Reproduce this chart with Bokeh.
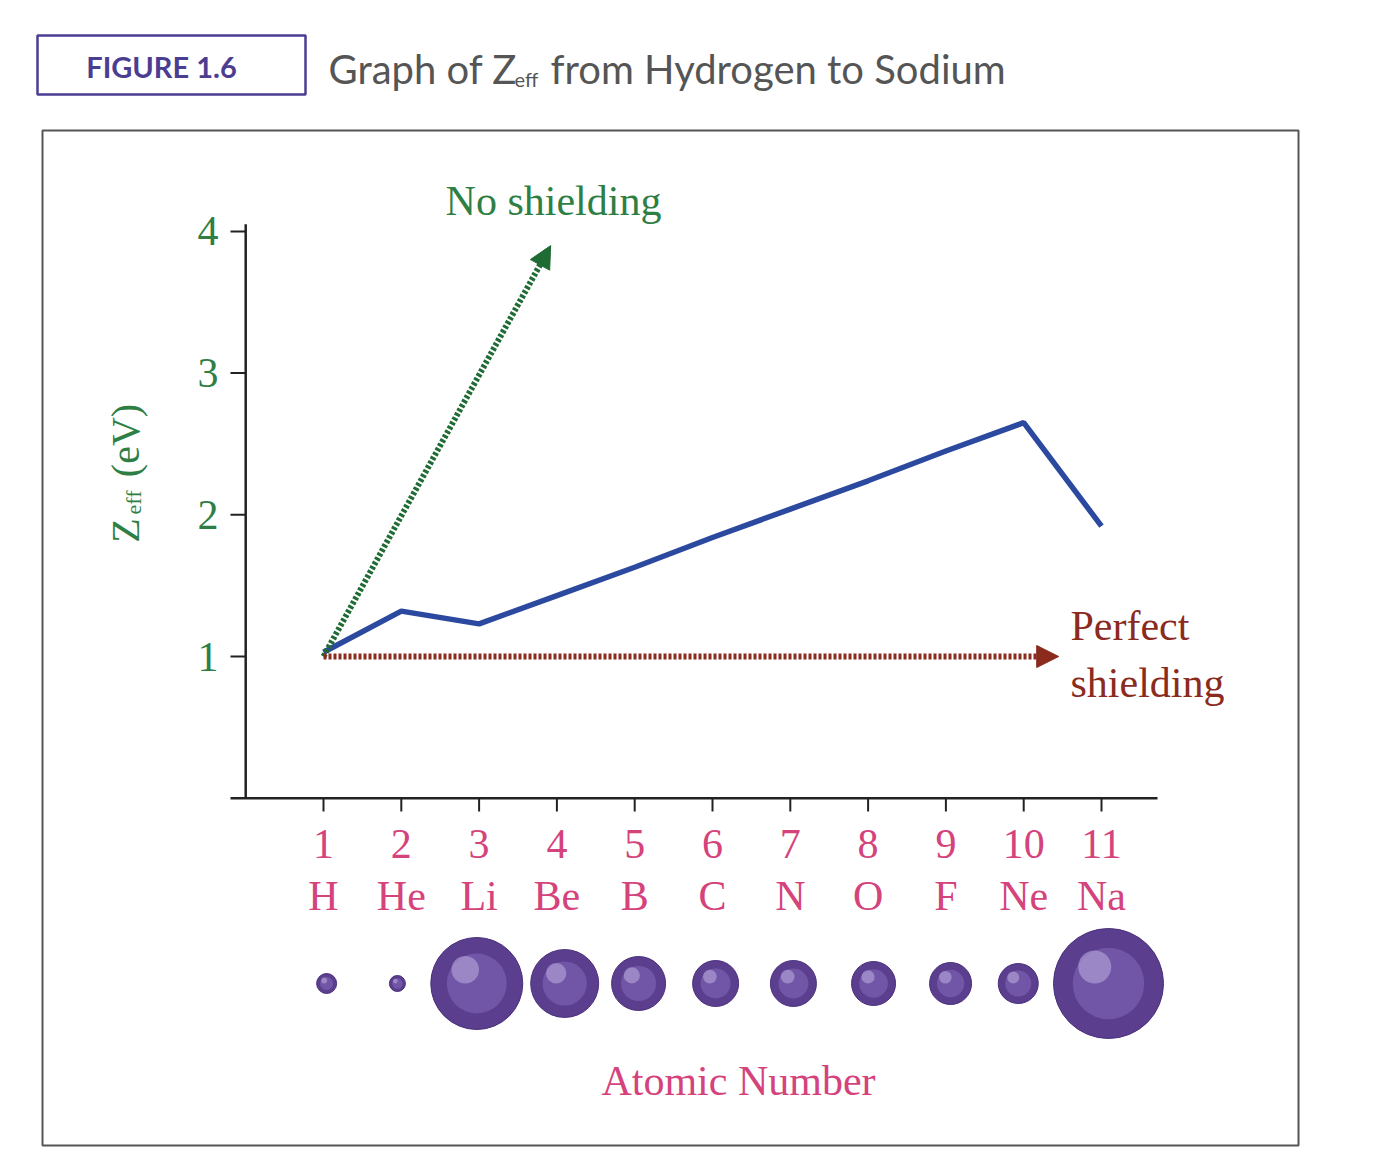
from bokeh.plotting import figure
from bokeh.embed import file_html
from bokeh.resources import INLINE
from bokeh.core.properties import value
from bokeh.models import Range1d, Arrow, NormalHead
import math

atomic_numbers = [1, 2, 3, 4, 5, 6, 7, 8, 9, 10, 11]
symbols = ["H", "He", "Li", "Be", "B", "C", "N", "O", "F", "Ne", "Na"]
zeff = [1.03, 1.32, 1.23, 1.43, 1.63, 1.84, 2.04, 2.24, 2.45, 2.65, 1.92]
y_ticks = [1, 2, 3, 4]
ball_x = [1.04, 1.95, 2.97, 4.10, 5.05, 6.04, 7.04, 8.07, 9.06, 9.93, 11.09]
ball_radius_px = [10, 8, 46, 34, 27, 23, 23, 22, 21, 20, 55]
no_shield_end = (3.92, 3.90)
perfect_end = (10.45, 1.0)

W, H = 1359, 1159
PX_X, PX_Y = 77.8, 141.7
def X(px): return 1 + (px - 323) / PX_X
def Y(py): return 1 - (py - 656) / PX_Y

p = figure(width=W, height=H, output_backend="svg", toolbar_location=None,
           x_range=Range1d(X(0), X(W)), y_range=Range1d(Y(H), Y(0)),
           min_border=0, border_fill_color="white")
p.axis.visible = False
p.grid.visible = False
p.outline_line_color = None

SERIF = value("Liberation Serif")
SANS = value("Lato")
GREEN = "#2f7f45"
PINK = "#d4437c"
BLUE = "#2c49a0"
BROWN = "#8a2b1e"
PURPLE = "#4b3d92"

# outer boxes
p.quad(left=X(42), right=X(1298), top=Y(130), bottom=Y(1145), fill_color=None, line_color="#555555", line_width=2)
p.quad(left=X(37), right=X(305), top=Y(35), bottom=Y(94), fill_color=None, line_color=PURPLE, line_width=2.5)
p.text(x=[X(161)], y=[Y(66)], text=["FIGURE 1.6"], text_font=SANS, text_font_style="bold",
       text_font_size="29px", text_color=PURPLE, text_align="center", text_baseline="middle")
p.text(x=[X(328)], y=[Y(68)], text=["Graph of Z"], text_font=SANS, text_font_size="40px",
       text_color="#555555", text_align="left", text_baseline="middle")
p.text(x=[X(514)], y=[Y(78)], text=["eff"], text_font=SANS, text_font_size="20px",
       text_color="#555555", text_align="left", text_baseline="middle")
p.text(x=[X(550)], y=[Y(68)], text=["from Hydrogen to Sodium"], text_font=SANS, text_font_size="40px",
       text_color="#555555", text_align="left", text_baseline="middle")

# axes
p.line([0, 0], [0, 4.05], line_color="#222222", line_width=2.5)
p.line([X(230), 11.72], [0, 0], line_color="#222222", line_width=2.5)
for t in y_ticks:
    p.line([X(230), 0], [t, t], line_color="#222222", line_width=2)
p.text(x=[X(218)] * len(y_ticks), y=y_ticks, text=[str(t) for t in y_ticks], text_font=SERIF,
       text_font_size="42px", text_color=GREEN, text_align="right", text_baseline="middle")
for a in atomic_numbers:
    p.line([a, a], [0, Y(811)], line_color="#222222", line_width=2)
p.text(x=atomic_numbers, y=[Y(843)] * 11, text=[str(a) for a in atomic_numbers], text_font=SERIF,
       text_font_size="42px", text_color=PINK, text_align="center", text_baseline="middle")
p.text(x=atomic_numbers, y=[Y(895)] * 11, text=symbols, text_font=SERIF,
       text_font_size="42px", text_color=PINK, text_align="center", text_baseline="middle")
p.text(x=[X(738)], y=[Y(1080)], text=["Atomic Number"], text_font=SERIF,
       text_font_size="42px", text_color=PINK, text_align="center", text_baseline="middle")

# y label
p.text(x=[X(125)], y=[Y(530)], text=["Z"], text_font=SERIF, text_font_size="40px", text_color=GREEN,
       angle=math.pi / 2, text_align="center", text_baseline="middle")
p.text(x=[X(133)], y=[Y(502)], text=["eff"], text_font=SERIF, text_font_size="22px", text_color=GREEN,
       angle=math.pi / 2, text_align="center", text_baseline="middle")
p.text(x=[X(125)], y=[Y(440)], text=["(eV)"], text_font=SERIF, text_font_size="40px", text_color=GREEN,
       angle=math.pi / 2, text_align="center", text_baseline="middle")

# arrows
p.add_layout(Arrow(x_start=1, y_start=1, x_end=no_shield_end[0], y_end=no_shield_end[1],
                   line_color="#1e6b34", line_width=6, line_dash="3 2",
                   end=NormalHead(size=22, fill_color="#1e6b34", line_color="#1e6b34")))
p.add_layout(Arrow(x_start=1, y_start=1, x_end=perfect_end[0], y_end=perfect_end[1],
                   line_color=BROWN, line_width=6, line_dash="3 2",
                   end=NormalHead(size=22, fill_color=BROWN, line_color=BROWN)))
p.text(x=[X(553)], y=[Y(200)], text=["No shielding"], text_font=SERIF, text_font_size="42px",
       text_color=GREEN, text_align="center", text_baseline="middle")
p.text(x=[X(1070)] * 2, y=[Y(625), Y(682)], text=["Perfect", "shielding"], text_font=SERIF,
       text_font_size="42px", text_color=BROWN, text_align="left", text_baseline="middle")

# Zeff line
p.line(atomic_numbers, zeff, line_color=BLUE, line_width=5.5)

# atom balls
by = Y(983)
p.scatter(ball_x, [by] * 11, size=[2 * r for r in ball_radius_px], fill_color="#5b3f8e",
          line_color="#4a2f7c", line_width=1)
p.scatter(ball_x, [by] * 11, size=[1.3 * r for r in ball_radius_px], fill_color="#7a5fb0",
          line_color=None, fill_alpha=0.7)
p.scatter([x - r * 0.25 / PX_X for x, r in zip(ball_x, ball_radius_px)],
          [by + r * 0.3 / PX_Y for r in ball_radius_px],
          size=[0.6 * r for r in ball_radius_px], fill_color="#b8a6dc", line_color=None, fill_alpha=0.6)

open("out.html", "w").write(file_html(p, INLINE))
